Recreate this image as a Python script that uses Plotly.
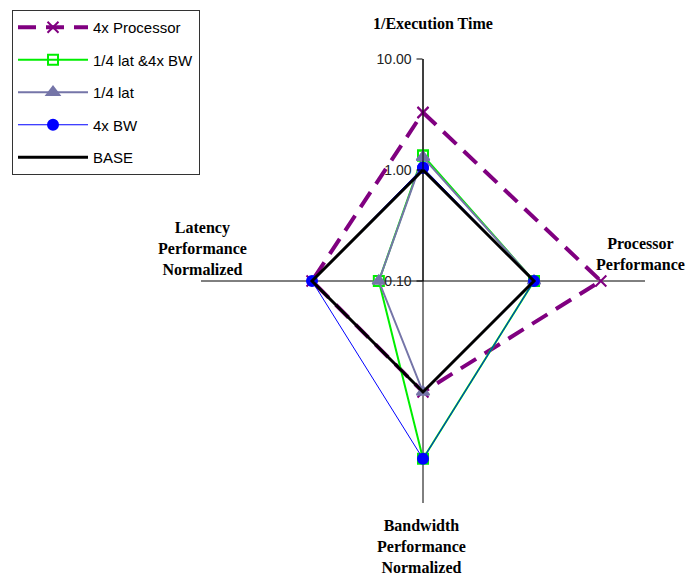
import plotly.graph_objects as go

# Radar axes (clockwise from top)
axes = ["1/Execution Time", "Processor Performance",
        "Bandwidth Performance Normalized", "Latency Performance Normalized"]

# Values (log radial scale 0.1 - 10)
proc_4x = [3.3, 4.0, 1.0, 1.0]
lat_bw = [1.35, 1.0, 4.0, 0.25]
lat_q = [1.3, 1.0, 1.0, 0.25]
bw_4x = [1.05, 1.0, 4.0, 1.0]
base = [1.0, 1.0, 1.0, 1.0]

radial_ticks = [0.1, 1, 10]
radial_labels = ["0.10", "1.00", "10.00"]

series = [
    ("4x Processor", proc_4x, "#800080", 4, "18px,10px", "x-thin-open", 11),
    ("1/4 lat &4x BW", lat_bw, "#00ee00", 2, "solid", "square-open", 10),
    ("1/4 lat", lat_q, "#7575a8", 2, "solid", "triangle-up", 11),
    ("4x BW", bw_4x, "#0000ff", 1, "solid", "circle", 10),
    ("BASE", base, "#000000", 3, "solid", None, 0),
]

fig = go.Figure()
for name, vals, color, width, dash, symbol, size in series:
    fig.add_trace(go.Scatterpolar(
        r=vals + vals[:1],
        theta=axes + axes[:1],
        name=name,
        legendgroup=name,
        mode="lines+markers" if symbol else "lines",
        line=dict(color=color, width=width, dash=dash),
        marker=dict(symbol=symbol or "circle", size=size, color=color,
                    line=dict(color=color, width=2)),
    ))

# page has an 8px body margin, so the figure is 8px smaller and positions shift by 8
OFF = 8
W, H = 695 - OFF, 577 - OFF
R, cx, cy = 222, 423 - OFF, 281 - OFF


def px(x):
    return (x - OFF) / W


def py(y):
    return 1 - (y - OFF) / H


fig.update_layout(
    width=W, height=H,
    margin=dict(l=0, r=0, t=0, b=0),
    paper_bgcolor="white",
    plot_bgcolor="white",
    polar=dict(
        domain=dict(x=[(cx - R) / W, (cx + R) / W],
                    y=[1 - (cy + R) / H, 1 - (cy - R) / H]),
        bgcolor="white",
        angularaxis=dict(
            categoryorder="array", categoryarray=axes,
            rotation=90, direction="clockwise",
            showline=False, showticklabels=False, ticks="",
            showgrid=True, gridcolor="black", gridwidth=1,
        ),
        radialaxis=dict(
            type="log", range=[-1, 1], angle=90,
            tickvals=radial_ticks, ticktext=radial_labels,
            showline=True, linecolor="black", linewidth=1,
            showgrid=False, ticks="outside", ticklen=6, tickcolor="black",
            side="counterclockwise",
            tickangle=90,
            tickfont=dict(family="Liberation Sans, Arial", size=14, color="#222"),
        ),
    ),
    legend=dict(
        x=px(12), y=py(10), xanchor="left", yanchor="top",
        bordercolor="#333", borderwidth=1, bgcolor="white",
        traceorder="grouped", tracegroupgap=10,
        font=dict(family="Liberation Sans, Arial", size=15, color="black"),
        itemwidth=70,
    ),
    showlegend=True,
)

title_font = dict(family="Liberation Serif, Times New Roman", size=16, color="black")
titles = [
    ("<b>1/Execution Time</b>", 433, 23),
    ("<b>Processor<br>Performance</b>", 640, 254),
    ("<b>Bandwidth<br>Performance<br>Normalized</b>", 421, 546),
    ("<b>Latency<br>Performance<br>Normalized</b>", 202, 249),
]
for text, x, y in titles:
    fig.add_annotation(text=text, x=px(x), y=py(y), xref="paper", yref="paper",
                       showarrow=False, xanchor="center", yanchor="middle",
                       font=title_font, align="center")

fig.write_html("out.html")
